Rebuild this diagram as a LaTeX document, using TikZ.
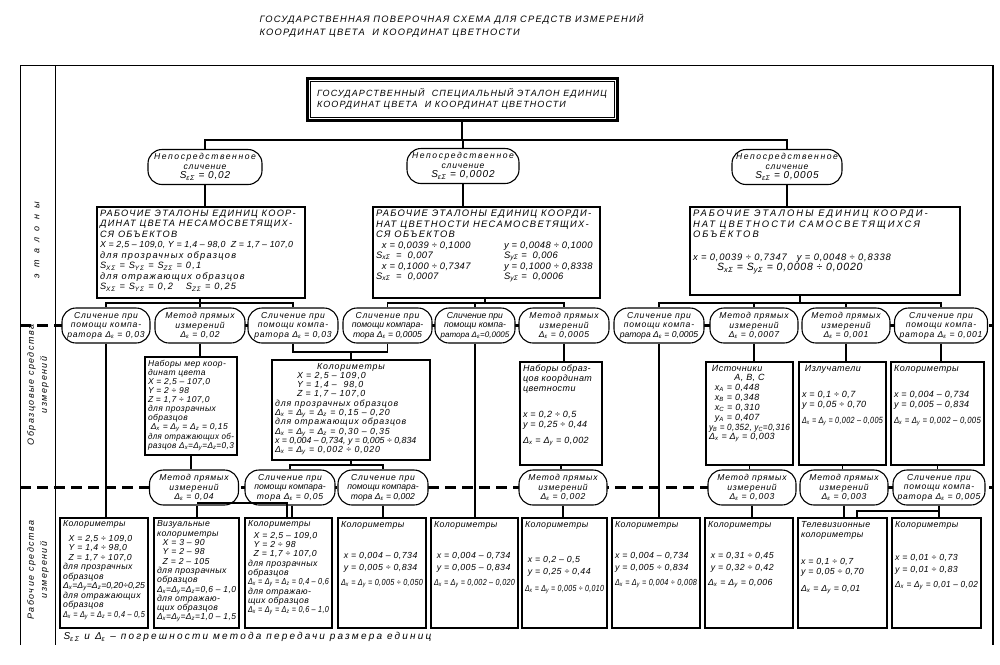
\documentclass[tikz,border=0pt]{standalone}
\usepackage{graphicx}
\usepackage{fontspec}
\setmainfont{Liberation Sans}[LetterSpace=5]
\newcommand\D[1]{Δ\textsubscript{#1}}
\newcommand\Se[1]{S\textsubscript{#1}}
\newcommand\ml[1]{\makebox[\linewidth]{#1}}
\newcommand\tight{\addfontfeature{LetterSpace=0}}
\newsavebox\fitbox
\newcommand\fit[1]{\sbox\fitbox{#1}\ifdim\wd\fitbox>\linewidth\resizebox{\linewidth}{\height}{\usebox\fitbox}\else\usebox\fitbox\fi}
\tikzset{
 box/.style={draw, line width=2.3pt, inner sep=3pt, fill=white},
 ov/.style={draw, line width=1.1pt, rounded corners=14pt, minimum height=35pt, inner sep=0.5pt, align=center, fill=white, font=\itshape\fontsize{8.6}{9.6}\selectfont\addfontfeature{LetterSpace=9}},
 conn/.style={line width=1.2pt},
 sep/.style={line width=3pt, dash pattern=on 11pt off 6pt},
 frame/.style={line width=1pt},
 lbl/.style={font=\itshape\fontsize{9}{13}\selectfont\addfontfeature{LetterSpace=16}, align=center, rotate=90},
}
\newcommand\bx[7][\fontsize{8}{9.6}\selectfont]{%
  \node[box, minimum width={#5-#3}, minimum height={#6-#4}] (#2) at ({(#3+#5)/2},{(#4+#6)/2})
  {\parbox[c][\dimexpr #6pt-#4pt-6pt\relax][t]{\dimexpr #5pt-#3pt-6pt\relax}{\itshape#1\raggedright #7}};}
\newcommand\ov[5]{\node[ov, minimum width=#4pt] (#1) at (#2,#3) {#5};}
\begin{document}
\begin{tikzpicture}[x=1pt,y=-1pt]
\useasboundingbox[fill=white] (0,0) rectangle (1000,664);
% title
\node[anchor=north west, align=left, font=\itshape\fontsize{9.3}{13}\selectfont\addfontfeature{LetterSpace=13}] (title) at (256,11)
 {ГОСУДАРСТВЕННАЯ ПОВЕРОЧНАЯ СХЕМА ДЛЯ СРЕДСТВ ИЗМЕРЕНИЙ\\КООРДИНАТ ЦВЕТА \ И КООРДИНАТ ЦВЕТНОСТИ};
% frame
\draw[frame] (20,645) -- (20,65) -- (993,65);
\draw[line width=2.5pt] (993,65) -- (993,645);
\draw[frame] (55,65) -- (55,645);
% side labels
\node[lbl, font=\itshape\fontsize{9}{11}\selectfont\addfontfeature{LetterSpace=70}] (l1) at (37,240) {эталоны};
\node[lbl] (l2) at (38,385) {Образцовые средства\\измерений};
\node[lbl] (l3) at (38,570) {Рабочие средства\\измерений};
% separators
\draw[sep] (20,325.5) -- (993,325.5);
\draw[sep] (20,487.5) -- (993,487.5);
% top box
\node[draw, line width=3pt, minimum width=310, minimum height=42, align=left,
  font=\itshape\fontsize{9}{10.5}\selectfont\addfontfeature{LetterSpace=12}, fill=white] (T) at (462,99)
 {ГОСУДАРСТВЕННЫЙ \ СПЕЦИАЛЬНЫЙ ЭТАЛОН ЕДИНИЦ\\КООРДИНАТ ЦВЕТА \ И КООРДИНАТ ЦВЕТНОСТИ};
\draw[line width=0.8pt] ([shift={(4.5,4.5)}]T.north west) rectangle ([shift={(-4.5,-4.5)}]T.south east);
% row 1
\ov{R1a}{205}{167}{114}{\addfontfeature{LetterSpace=18}Непосредственное\\сличение\\{\fontsize{10}{10}\selectfont\Se{εΣ} = 0,02}}
\ov{R1b}{463}{166}{112}{\addfontfeature{LetterSpace=18}Непосредственное\\сличение\\{\fontsize{10}{10}\selectfont\Se{εΣ} = 0,0002}}
\ov{R1c}{787}{167}{110}{\addfontfeature{LetterSpace=18}Непосредственное\\сличение\\{\fontsize{10}{10}\selectfont\Se{εΣ} = 0,0005}}
% working standards
\bx[\fontsize{9.2}{10.5}\selectfont]{Wa}{97}{207}{305}{298}{\addfontfeature{LetterSpace=14}\fit{РАБОЧИЕ ЭТАЛОНЫ ЕДИНИЦ КООР-}\\\fit{ДИНАТ ЦВЕТА НЕСАМОСВЕТЯЩИХ-}\\СЯ ОБЪЕКТОВ\\\fit{\fontsize{8.8}{10}\selectfont\addfontfeature{LetterSpace=3}X = 2,5 – 109,0, Y = 1,4 – 98,0 \ Z = 1,7 – 107,0}\\для прозрачных образцов\\ \Se{XΣ} = \Se{YΣ} = \Se{ZΣ} = 0,1\\ для отражающих образцов\\ \Se{XΣ} = \Se{YΣ} = 0,2 \quad \Se{ZΣ} = 0,25}
\bx[\fontsize{9.4}{10.5}\selectfont]{Wb}{373}{207}{600}{298}{\addfontfeature{LetterSpace=14}\fit{РАБОЧИЕ ЭТАЛОНЫ ЕДИНИЦ КООРДИ-}\\\fit{НАТ ЦВЕТНОСТИ НЕСАМОСВЕТЯЩИХ-}\\СЯ ОБЪЕКТОВ\\\addfontfeature{LetterSpace=4}\makebox[128pt][l]{\ \ x = 0,0039 ÷ 0,1000}y = 0,0048 ÷ 0,1000\\\makebox[128pt][l]{\Se{xΣ} \ = \ 0,007}\Se{yΣ} = \ 0,006\\\makebox[128pt][l]{\ \ x = 0,1000 ÷ 0,7347}y = 0,1000 ÷ 0,8338\\\makebox[128pt][l]{\Se{xΣ} \ = \ 0,0007}\Se{yΣ} = \ 0,0006}
\bx[\fontsize{9.4}{10.5}\selectfont]{Wc}{690}{207}{960}{295}{\addfontfeature{LetterSpace=22}\fit{РАБОЧИЕ ЭТАЛОНЫ ЕДИНИЦ КООРДИ-}\\\fit{НАТ ЦВЕТНОСТИ САМОСВЕТЯЩИХСЯ}\\ОБЪЕКТОВ\\[12pt]\addfontfeature{LetterSpace=8}x = 0,0039 ÷ 0,7347 \ \ y = 0,0048 ÷ 0,8338\\\hspace*{24pt}{\fontsize{10.5}{12}\selectfont\Se{xΣ} = \Se{yΣ} = 0,0008 ÷ 0,0020}}
% row 2 ovals
\ov{O1}{106}{325.5}{88}{Сличение при\\помощи компа-\\ратора \D{ε} = 0,03}
\ov{O2}{200}{325.5}{90}{Метод прямых\\измерений\\\D{ε} = 0,02}
\ov{O3}{293}{325.5}{90}{Сличение при\\помощи компа-\\ратора \D{ε} = 0,03}
\ov{O4}{387.5}{325.5}{89}{Сличение при\\{\tight помощи компара-}\\{\tight тора \D{ε} = 0,0005}}
\ov{O5}{475}{325.5}{80}{{\tight Сличение при}\\{\tight помощи компа-}\\{\fontsize{8}{9.6}\selectfont\tight ратора \D{ε}=0,0005}}
\ov{O6}{564}{325.5}{90}{Метод прямых\\измерений\\\D{ε} = 0,0005}
\ov{O7}{659}{325.5}{90}{Сличение при\\помощи компа-\\{\tight ратора \D{ε} = 0,0005}}
\ov{O8}{754}{325.5}{88}{Метод прямых\\измерений\\\D{ε} = 0,0007}
\ov{O9}{846}{325.5}{88}{Метод прямых\\измерений\\\D{ε} = 0,001}
\ov{O10}{941}{325.5}{93}{Сличение при\\помощи компа-\\ратора \D{ε} = 0,001}
% middle boxes
\bx[\fontsize{8.5}{9.1}\selectfont]{A}{145}{357}{237}{455}{\fit{Наборы мер коор-}\\динат цвета\\ X = 2,5 – 107,0\\ Y = 2 ÷ 98\\ Z = 1,7 ÷ 107,0\\для прозрачных\\образцов\\\fit{ \D{x} = \D{y} = \D{z} = 0,15}\\\fit{для отражающих об-}\\\fit{разцов \D{x}=\D{y}=\D{z}=0,3}}
\bx[\fontsize{8.8}{9.3}\selectfont]{B}{272}{360}{430}{460}{\addfontfeature{LetterSpace=10}\ml{Колориметры}\\\hspace*{22pt}X = 2,5 – 109,0\\\hspace*{22pt}Y = 1,4 – \ 98,0\\\hspace*{22pt}Z = 1,7 – 107,0\\для прозрачных образцов\\\D{x} = \D{y} = \D{z} = 0,15 – 0,20\\для отражающих образцов\\\D{x} = \D{y} = \D{z} = 0,30 – 0,35\\\fit{\tight x = 0,004 – 0,734, y = 0,005 ÷ 0,834}\\\D{x} = \D{y} = 0,002 ÷ 0,020}
\bx[\fontsize{9}{10}\selectfont]{C}{520}{362}{602}{465}{\fit{Наборы образ-}\\\fit{цов координат}\\ цветности\\[16pt] x = 0,2 ÷ 0,5\\ y = 0,25 ÷ 0,44\\[6pt]\fit{\D{x} = \D{y} = 0,002}}
\bx[\fontsize{9}{9.8}\selectfont]{D}{706}{362}{793}{465}{\ Источники\\\ml{A, B, C}\\ \ \ x\textsubscript{A} = 0,448\\ \ \ x\textsubscript{B} = 0,348\\ \ \ x\textsubscript{C} = 0,310\\ \ \ y\textsubscript{A} = 0,407\\\fit{y\textsubscript{B} = 0,352, y\textsubscript{C}=0,316}\\\fit{\D{x} = \D{y} = 0,003}}
\bx[\fontsize{9}{10}\selectfont]{E}{799}{362}{886}{465}{\ Излучатели\\[16pt]x = 0,1 ÷ 0,7\\y = 0,05 ÷ 0,70\\[6pt]\fit{\D{x} = \D{y} = 0,002 – 0,005}}
\bx[\fontsize{9}{10}\selectfont]{F}{891}{362}{984}{465}{Колориметры\\[16pt]\fit{x = 0,004 – 0,734}\\\fit{y = 0,005 – 0,834}\\[6pt]\fit{\D{x} = \D{y} = 0,002 – 0,005}}
% row 3 ovals
\ov{a}{194}{487.5}{89}{Метод прямых\\измерений\\\D{ε} = 0,04}
\ov{b}{290}{487.5}{90}{Сличение при\\{\tight помощи компара-}\\тора \D{ε} = 0,05}
\ov{c}{383}{487.5}{90}{Сличение при\\{\tight помощи компара-}\\{\tight тора \D{ε} = 0,002}}
\ov{d}{563}{487.5}{88}{Метод прямых\\измерений\\\D{ε} = 0,002}
\ov{e}{752}{487.5}{88}{Метод прямых\\измерений\\\D{ε} = 0,003}
\ov{f}{844}{487.5}{88}{Метод прямых\\измерений\\\D{ε} = 0,003}
\ov{g}{939}{487.5}{92}{Сличение при\\помощи компа-\\ратора \D{ε} = 0,005}
% bottom boxes
\bx[\fontsize{8.7}{9.5}\selectfont]{B1}{60}{518}{148}{628}{Колориметры\\[5pt]\fit{\ \ X = 2,5 ÷ 109,0}\\\fit{\ \ Y = 1,4 ÷ 98,0}\\\fit{\ \ Z = 1,7 ÷ 107,0}\\\fit{для прозрачных}\\образцов\\\fit{\tight\D{x}=\D{y}=\D{z}=0,20÷0,25}\\\fit{для отражающих}\\образцов\\\fit{\D{x} = \D{y} = \D{z} = 0,4 – 0,5}}
\bx[\fontsize{8.7}{9.3}\selectfont]{B2}{154}{518}{239}{628}{Визуальные\\колориметры\\\ \ X = 3 – 90\\\ \ Y = 2 – 98\\\ \ Z = 2 – 105\\\fit{для прозрачных}\\образцов\\\fit{\D{x}=\D{y}=\D{z}=0,6 – 1,0}\\для отражаю-\\\fit{щих образцов}\\\fit{\D{x}=\D{y}=\D{z}=1,0 – 1,5}}
\bx[\fontsize{8.7}{9.3}\selectfont]{B3}{245}{518}{332}{628}{Колориметры\\[2pt]\fit{\ \ X = 2,5 – 109,0}\\\ \ Y = 2 ÷ 98\\\fit{\ \ Z = 1,7 ÷ 107,0}\\\fit{для прозрачных}\\образцов\\\fit{\D{x} = \D{y} = \D{z} = 0,4 – 0,6}\\для отражаю-\\\fit{щих образцов}\\\fit{\D{x} = \D{y} = \D{z} = 0,6 – 1,0}}
\bx[\fontsize{8.8}{11.5}\selectfont]{B4}{338}{518}{426}{628}{Колориметры\\[20pt]\fit{\ x = 0,004 – 0,734}\\\fit{\ y = 0,005 ÷ 0,834}\\[4pt]\fit{\D{x} = \D{y} = 0,005 ÷ 0,050}}
\bx[\fontsize{8.8}{11.5}\selectfont]{B5}{431}{518}{518}{628}{Колориметры\\[20pt]\fit{\ x = 0,004 – 0,734}\\\fit{\ y = 0,005 – 0,834}\\[4pt]\fit{\D{x} = \D{y} = 0,002 – 0,020}}
\bx[\fontsize{8.8}{11.5}\selectfont]{B6}{522}{518}{607}{628}{Колориметры\\[24pt]\ x = 0,2 – 0,5\\\fit{\ y = 0,25 ÷ 0,44}\\[6pt]\fit{\D{x} = \D{y} = 0,005 ÷ 0,010}}
\bx[\fontsize{8.8}{11.5}\selectfont]{B7}{612}{518}{700}{628}{Колориметры\\[20pt]\fit{x = 0,004 – 0,734}\\\fit{y = 0,005 ÷ 0,834}\\[4pt]\fit{\D{x} = \D{y} = 0,004 ÷ 0,008}}
\bx[\fontsize{8.8}{11.5}\selectfont]{B8}{705}{518}{793}{628}{Колориметры\\[20pt]\fit{\ x = 0,31 ÷ 0,45}\\\fit{\ y = 0,32 ÷ 0,42}\\[4pt]\fit{\D{x} = \D{y} = 0,006}}
\bx[\fontsize{8.8}{10.5}\selectfont]{B9}{798}{518}{887}{628}{\fit{Телевизионные}\\колориметры\\[16pt]x = 0,1 ÷ 0,7\\\fit{y = 0,05 ÷ 0,70}\\[6pt]\fit{\D{x} = \D{y} = 0,01}}
\bx[\fontsize{8.8}{11.5}\selectfont]{B10}{892}{518}{981}{628}{Колориметры\\[22pt]\fit{x = 0,01 ÷ 0,73}\\\fit{y = 0,01 ÷ 0,83}\\[4pt]\fit{\D{x} = \D{y} = 0,01 – 0,02}}
% footnote
\node[anchor=west, font=\itshape\fontsize{10}{11}\selectfont\addfontfeature{LetterSpace=22}] (fn) at (60,637) {\Se{εΣ} и \D{ε} – погрешности метода передачи размера единиц};
% connectors
\coordinate (b1) at (462,140);
\draw[conn] (T.south) -- (b1);
\draw[conn] (R1a.north) |- (b1) -| (R1c.north);
\draw[conn] (R1b.north) -- (R1b.north |- b1);
\draw[conn] (R1a.south) -- (R1a.south |- Wa.north);
\draw[conn] (R1b.south) -- (R1b.south |- Wb.north);
\draw[conn] (R1c.south) -- (R1c.south |- Wc.north);
\coordinate (b2a) at (200,303);
\coordinate (b2b) at (485,303);
\coordinate (b2c) at (800,303);
\draw[conn] (Wa.south -| b2a) -- (b2a);
\draw[conn] (O1.north) |- (b2a) -| (O3.north);
\draw[conn] (O2.north) -- (O2.north |- b2a);
\draw[conn] (Wb.south -| b2b) -- (b2b);
\draw[conn] (O4.north) |- (b2b) -| (O6.north);
\draw[conn] (O5.north) -- (O5.north |- b2b);
\draw[conn] (Wc.south -| b2c) -- (b2c);
\draw[conn] (O7.north) |- (b2c) -| (O10.north);
\draw[conn] (O8.north) -- (O8.north |- b2c);
\draw[conn] (O9.north) -- (O9.north |- b2c);
% middle
\draw[conn] (O1.south) -- (O1.south |- B1.north);
\draw[conn] (O2.south) -- (O2.south |- A.north);
\draw[conn] (A.south) -- (A.south |- a.north);
\coordinate (m1) at (351,352);
\draw[conn] (O3.south) |- (m1) -| (O4.south);
\draw[conn] (m1) -- (m1 |- B.north);
\coordinate (m2) at (351,465);
\draw[conn] (B.south) -- (m2);
\draw[conn] (b.north) |- (m2) -| (c.north);
\draw[conn] (O5.south) -- (O5.south |- B5.north);
\draw[conn] (O6.south) -- (O6.south |- C.north);
\draw[conn] (C.south) -- (C.south |- d.north);
\draw[conn] (O7.south) -- (O7.south |- B7.north);
\draw[conn] (O8.south) -- (O8.south |- D.north);
\draw[conn] (D.south) -- (D.south |- e.north);
\draw[conn] (O9.south) -- (O9.south |- E.north);
\draw[conn] (E.south) -- (E.south |- f.north);
\draw[conn] (O10.south) -- (O10.south |- F.north);
\draw[conn] (F.south) -- (F.south |- g.north);
% bottom
\coordinate (j1) at (197,503);
\coordinate (j2) at (287,503);
\draw[conn] (a.south -| j1) -- (j1 |- B2.north);
\draw[conn] (j1) -- (j2) -- (j2 |- B3.north);
\draw[conn] (b.south -| 292,0) -- (B3.north -| 292,0);
\draw[conn] (c.south) -- (c.south |- B4.north);
\draw[conn] (d.south) -- (d.south |- B6.north);
\draw[conn] (e.south) -- (e.south |- B8.north);
\draw[conn] (f.south) -- (f.south |- B9.north);
\draw[conn] (g.south) -- (g.south |- B10.north);
\coordinate (j3) at (939,511);
\coordinate (j4) at (857,511);
\draw[conn] (j3) -- (j4) -- (j4 |- B9.north);
\end{tikzpicture}
\end{document}
